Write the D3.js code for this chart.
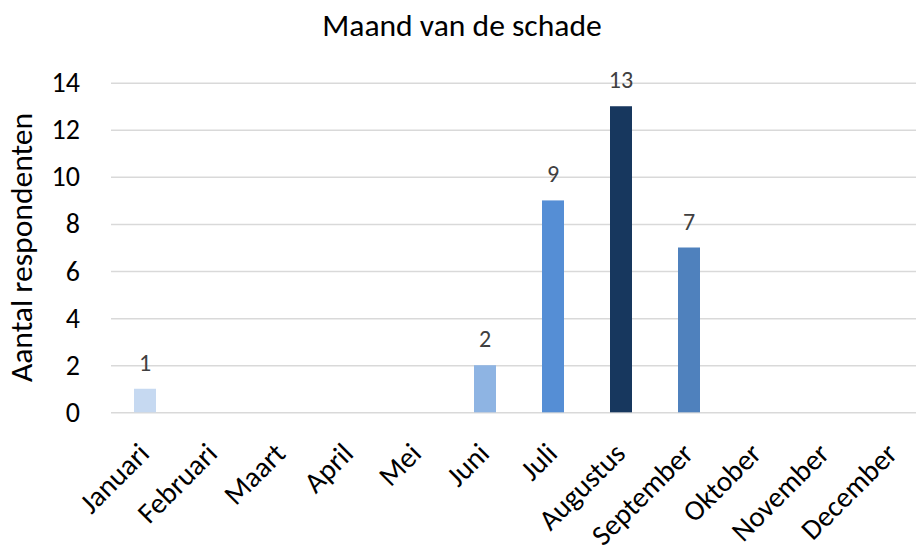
<!DOCTYPE html>
<html>
<head>
<meta charset="utf-8">
<script src="https://cdn.jsdelivr.net/npm/d3@7"></script>
<style>
  body { margin: 0; background: #fff; }
  svg { display: block; }
  text { font-family: Calibri, Carlito, Lato, sans-serif; }
</style>
</head>
<body>
<svg id="chart" width="916" height="554"></svg>
<script>
// ---- data ----
const months = ["Januari", "Februari", "Maart", "April", "Mei", "Juni",
                "Juli", "Augustus", "September", "Oktober", "November", "December"];
const counts = [1, 0, 0, 0, 0, 2, 9, 13, 7, 0, 0, 0];
const barColors = ["#C6D9F1", "#C6D9F1", "#C6D9F1", "#C6D9F1", "#C6D9F1", "#8EB4E3",
                   "#558ED5", "#17375E", "#4F81BD", "#4F81BD", "#4F81BD", "#4F81BD"];
const yTicks = [0, 2, 4, 6, 8, 10, 12, 14];
const chartTitle = "Maand van de schade";
const yAxisTitle = "Aantal respondenten";

// ---- layout ----
const svg = d3.select("#chart");
const plotLeft = 111, plotRight = 927, plotTop = 82.7, plotBottom = 412.3;

const x = d3.scaleBand()
  .domain(months)
  .range([plotLeft, plotRight])
  .paddingInner(0.6765)
  .paddingOuter(0.6765 / 2);

const y = d3.scaleLinear()
  .domain([0, 14])
  .range([plotBottom, plotTop]);

// gridlines + y tick labels
const yAxis = svg.append("g")
  .attr("transform", `translate(${plotLeft},0)`)
  .call(d3.axisLeft(y).tickValues(yTicks).tickSize(-(plotRight - plotLeft)).tickPadding(31));
yAxis.select(".domain").remove();
yAxis.selectAll(".tick line").attr("stroke", "#d9d9d9").attr("stroke-width", 1.5);
yAxis.selectAll(".tick text")
  .attr("fill", "#000")
  .attr("font-size", 28)
  .attr("dy", "0.32em");

// bars
const data = months.map((m, i) => ({ month: m, value: counts[i], color: barColors[i] }));
svg.append("g").selectAll("rect")
  .data(data.filter(d => d.value > 0))
  .join("rect")
  .attr("x", d => x(d.month))
  .attr("width", x.bandwidth())
  .attr("y", d => y(d.value))
  .attr("height", d => y(0) - y(d.value))
  .attr("fill", d => d.color);

// data labels
svg.append("g").selectAll("text")
  .data(data.filter(d => d.value > 0))
  .join("text")
  .attr("x", d => x(d.month) + x.bandwidth() / 2)
  .attr("y", d => y(d.value) - 18)
  .attr("text-anchor", "middle")
  .attr("font-size", 24)
  .attr("fill", "#404040")
  .text(d => d.value);

// x axis labels
const xAxis = svg.append("g")
  .attr("transform", `translate(0,${plotBottom})`)
  .call(d3.axisBottom(x).tickSize(0));
xAxis.select(".domain").remove();
xAxis.selectAll(".tick text")
  .attr("x", 0).attr("y", 0).attr("dy", 0)
  .attr("text-anchor", "end")
  .attr("font-size", 29)
  .attr("fill", "#000")
  .attr("transform", "translate(6,43) rotate(-45)");

// chart title
svg.append("text")
  .attr("x", 462)
  .attr("y", 36)
  .attr("text-anchor", "middle")
  .attr("font-size", 31.6)
  .attr("fill", "#000")
  .text(chartTitle);

// y axis title
svg.append("text")
  .attr("transform", `translate(32,${(plotTop + plotBottom) / 2}) rotate(-90)`)
  .attr("text-anchor", "middle")
  .attr("font-size", 31.6)
  .attr("fill", "#000")
  .text(yAxisTitle);
</script>
</body>
</html>
